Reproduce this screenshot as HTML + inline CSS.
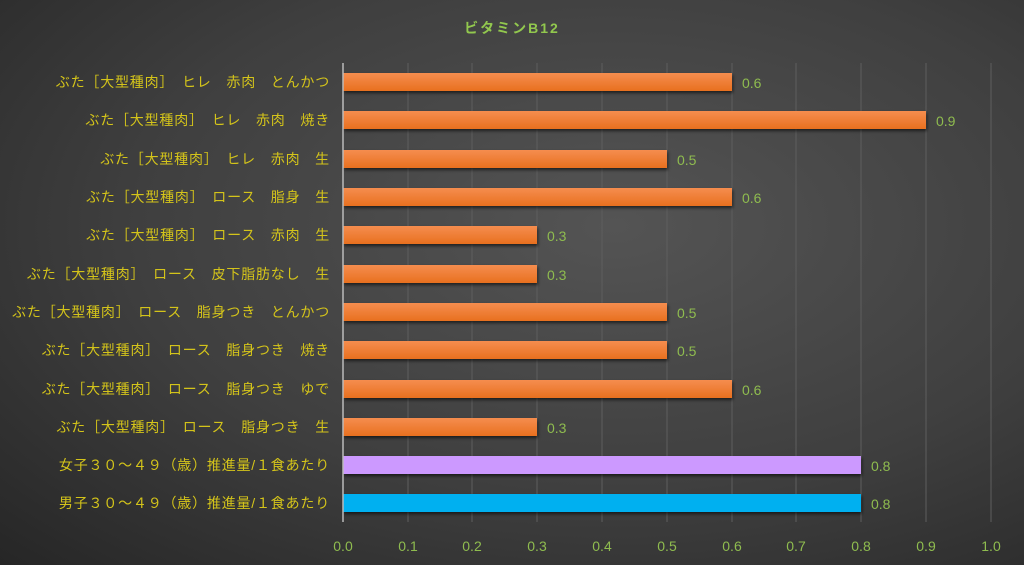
<!DOCTYPE html><html><head><meta charset="utf-8"><style>
html,body{margin:0;padding:0;width:1024px;height:565px;overflow:hidden}
body{background:radial-gradient(ellipse at 60% 40%,#545454 0%,#3f3f3f 55%,#262626 100%)}
svg text{font-family:"Liberation Sans","Noto Sans CJK JP",sans-serif}
</style></head><body>
<svg width="1024" height="565" xmlns="http://www.w3.org/2000/svg">
<defs><linearGradient id="o" x1="0" y1="0" x2="0" y2="1"><stop offset="0" stop-color="#f58d4f"/><stop offset="1" stop-color="#e8701f"/></linearGradient>
<filter id="s"><feDropShadow dx="1" dy="2" stdDeviation="1.5" flood-color="#000" flood-opacity="0.6"/></filter></defs>
<text x="512" y="33" fill="#92c84e" font-size="14" font-weight="bold" text-anchor="middle" letter-spacing="2">ビタミンB12</text>
<g stroke="#5e5e5e" stroke-width="1">
<line x1="408" y1="63" x2="408" y2="522"/><line x1="472" y1="63" x2="472" y2="522"/><line x1="537" y1="63" x2="537" y2="522"/><line x1="602" y1="63" x2="602" y2="522"/><line x1="667" y1="63" x2="667" y2="522"/><line x1="732" y1="63" x2="732" y2="522"/><line x1="796" y1="63" x2="796" y2="522"/><line x1="861" y1="63" x2="861" y2="522"/><line x1="926" y1="63" x2="926" y2="522"/><line x1="991" y1="63" x2="991" y2="522"/>
</g>
<g filter="url(#s)">
<rect x="343" y="73" width="389" height="18" fill="url(#o)"/>
<rect x="343" y="111" width="583" height="18" fill="url(#o)"/>
<rect x="343" y="150" width="324" height="18" fill="url(#o)"/>
<rect x="343" y="188" width="389" height="18" fill="url(#o)"/>
<rect x="343" y="226" width="194" height="18" fill="url(#o)"/>
<rect x="343" y="265" width="194" height="18" fill="url(#o)"/>
<rect x="343" y="303" width="324" height="18" fill="url(#o)"/>
<rect x="343" y="341" width="324" height="18" fill="url(#o)"/>
<rect x="343" y="380" width="389" height="18" fill="url(#o)"/>
<rect x="343" y="418" width="194" height="18" fill="url(#o)"/>
<rect x="343" y="456" width="518" height="18" fill="#cc99ff"/>
<rect x="343" y="494" width="518" height="18" fill="#00b0f0"/>
</g>
<line x1="343" y1="63" x2="343" y2="522" stroke="#bbb" stroke-width="1.5"/>
<g fill="#8fbc4f" font-size="14">
<text x="742" y="88">0.6</text><text x="936" y="126">0.9</text><text x="677" y="165">0.5</text><text x="742" y="203">0.6</text><text x="547" y="241">0.3</text><text x="547" y="280">0.3</text><text x="677" y="318">0.5</text><text x="677" y="356">0.5</text><text x="742" y="395">0.6</text><text x="547" y="433">0.3</text><text x="871" y="471">0.8</text><text x="871" y="509">0.8</text>
</g>
<g fill="#8fbc4f" font-size="14" text-anchor="middle">
<text x="343" y="551">0.0</text><text x="408" y="551">0.1</text><text x="472" y="551">0.2</text><text x="537" y="551">0.3</text><text x="602" y="551">0.4</text><text x="667" y="551">0.5</text><text x="732" y="551">0.6</text><text x="796" y="551">0.7</text><text x="861" y="551">0.8</text><text x="926" y="551">0.9</text><text x="991" y="551">1.0</text>
</g>
<g fill="#d4c41a" font-size="14" text-anchor="end" letter-spacing="0.8">
<text x="330" y="87">ぶた［大型種肉］　ヒレ　赤肉　とんかつ</text>
<text x="330" y="125">ぶた［大型種肉］　ヒレ　赤肉　焼き</text>
<text x="330" y="164">ぶた［大型種肉］　ヒレ　赤肉　生</text>
<text x="330" y="202">ぶた［大型種肉］　ロース　脂身　生</text>
<text x="330" y="240">ぶた［大型種肉］　ロース　赤肉　生</text>
<text x="330" y="279">ぶた［大型種肉］　ロース　皮下脂肪なし　生</text>
<text x="330" y="317">ぶた［大型種肉］　ロース　脂身つき　とんかつ</text>
<text x="330" y="355">ぶた［大型種肉］　ロース　脂身つき　焼き</text>
<text x="330" y="394">ぶた［大型種肉］　ロース　脂身つき　ゆで</text>
<text x="330" y="432">ぶた［大型種肉］　ロース　脂身つき　生</text>
<text x="330" y="470">女子３０～４９（歳）推進量/１食あたり</text>
<text x="330" y="508">男子３０～４９（歳）推進量/１食あたり</text>
</g>
</svg></body></html>
